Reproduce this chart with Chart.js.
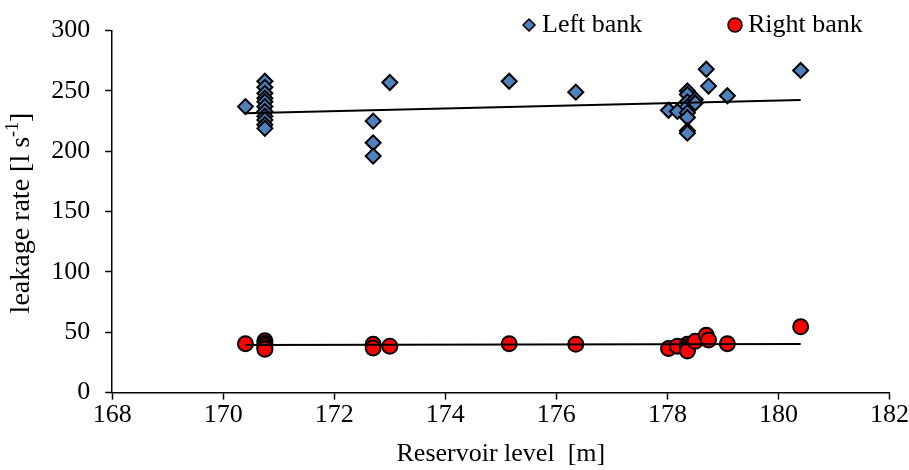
<!DOCTYPE html>
<html>
<head>
<meta charset="utf-8">
<script src="https://cdn.jsdelivr.net/npm/chart.js@4/dist/chart.umd.min.js"></script>
<style>
    html, body { margin: 0; padding: 0; background: #fff; }
    #wrap { width: 909px; height: 470px; }
</style>
</head>
<body>
<div id="wrap"><canvas id="leakChart" width="909" height="470"></canvas></div>
<script>
// reservoir level [m] and leakage [l/s]
const leftLevel = [170.4, 170.75, 170.75, 170.75, 170.75, 170.75, 170.75, 170.75, 170.75, 170.75, 170.75, 170.75,
    172.7, 172.7, 172.7, 173.0, 175.15, 176.35, 178.02, 178.18,
    178.36, 178.36, 178.36, 178.36, 178.36, 178.36, 178.36, 178.36, 178.5, 178.5, 178.7, 178.74, 179.08, 180.4];
const leftRate = [237, 258, 253, 248, 244, 241, 237, 233, 229, 226, 222, 219,
    225, 207, 196, 257, 258, 249, 234, 233,
    250, 247, 241, 237, 232, 228, 217, 215, 243, 240, 268, 254, 246, 267];

const rightLevel = [170.4, 170.75, 170.75, 170.75, 170.75, 170.75, 172.7, 172.7, 173.0, 175.15, 176.35,
    178.02, 178.18, 178.36, 178.36, 178.36, 178.36, 178.5, 178.7, 178.74, 179.08, 180.4];
const rightRate = [40.5, 43, 41, 39, 37, 36, 40, 37, 38.5, 40.5, 40,
    36.5, 38.5, 40, 38, 36, 34.5, 42.5, 47.5, 43.5, 40.5, 54.5];

// trend lines (end points)
const trendLevel = [170.4, 180.4];
const leftTrend = [231.5, 242.5];
const rightTrend = [39.5, 40.3];

const xTicks = { min: 168, max: 182, step: 2 };
const yTicks = { min: 0, max: 300, step: 50 };

const serif = "'Liberation Serif', 'Times New Roman', serif";
const fontSize = 26;

const toPoints = (xs, ys) => xs.map((x, i) => ({ x, y: ys[i] }));

// y title with a raised "-1"
const yTitlePlugin = {
    id: "yTitle",
    afterDraw(chart) {
        const ctx = chart.ctx;
        const main = "leakage rate [l s";
        const sup = "-1";
        const tail = "]";

        ctx.save();
        ctx.fillStyle = "#000";
        ctx.textBaseline = "middle";

        ctx.font = "28px " + serif;
        const w1 = ctx.measureText(main).width;
        const w3 = ctx.measureText(tail).width;
        ctx.font = "18px " + serif;
        const w2 = ctx.measureText(sup).width;
        const total = w1 + w2 + w3;

        ctx.translate(22, 213);
        ctx.rotate(-Math.PI / 2);

        let x = -total / 2;
        ctx.font = "28px " + serif;
        ctx.fillText(main, x, 0);
        x += w1;
        ctx.font = "18px " + serif;
        ctx.fillText(sup, x, -9);
        x += w2;
        ctx.font = "28px " + serif;
        ctx.fillText(tail, x, 0);
        ctx.restore();
    }
};

// legend drawn over the top of the plot, as in the original
const legendPlugin = {
    id: "overLegend",
    afterDraw(chart) {
        const ctx = chart.ctx;
        const items = [
            { ds: chart.data.datasets[0], x: 529, r: 6 },
            { ds: chart.data.datasets[1], x: 735, r: 7 }
        ];
        ctx.save();
        ctx.font = fontSize + "px " + serif;
        ctx.textBaseline = "middle";
        items.forEach(item => {
            ctx.fillStyle = item.ds.backgroundColor;
            ctx.strokeStyle = "#000";
            ctx.lineWidth = 1.5;
            Chart.helpers.drawPoint(ctx, {
                pointStyle: item.ds.pointStyle,
                radius: item.r,
                borderWidth: 1.5,
                rotation: 0
            }, item.x, 25);
            ctx.fillStyle = "#000";
            ctx.fillText(item.ds.label, item.x + 13, 25);
        });
        ctx.restore();
    }
};

const ctx = document.getElementById("leakChart").getContext("2d");

new Chart(ctx, {
    type: "scatter",
    data: {
        datasets: [
            {
                label: "Left bank",
                data: toPoints(leftLevel, leftRate),
                pointStyle: "rectRot",
                pointRadius: 7.5,
                pointHoverRadius: 7.5,
                backgroundColor: "#4F81BD",
                borderColor: "#000",
                borderWidth: 2,
                order: 2
            },
            {
                label: "Right bank",
                data: toPoints(rightLevel, rightRate),
                pointStyle: "circle",
                pointRadius: 7.5,
                pointHoverRadius: 7.5,
                backgroundColor: "#FF0000",
                borderColor: "#000",
                borderWidth: 2,
                order: 2
            },
            {
                label: "trendL",
                type: "line",
                data: toPoints(trendLevel, leftTrend),
                borderColor: "#000",
                borderWidth: 2,
                pointRadius: 0,
                fill: false,
                order: 1
            },
            {
                label: "trendR",
                type: "line",
                data: toPoints(trendLevel, rightTrend),
                borderColor: "#000",
                borderWidth: 2,
                pointRadius: 0,
                fill: false,
                order: 1
            }
        ]
    },
    options: {
        responsive: false,
        animation: false,
        layout: {
            padding: { left: 0, right: 2, top: 14, bottom: 0 }
        },
        plugins: {
            tooltip: { enabled: false },
            legend: { display: false }
        },
        scales: {
            x: {
                type: "linear",
                min: xTicks.min,
                max: xTicks.max,
                ticks: {
                    stepSize: xTicks.step,
                    color: "#000",
                    padding: 0,
                    font: { family: serif, size: fontSize }
                },
                grid: {
                    display: true,
                    drawOnChartArea: false,
                    drawTicks: true,
                    tickLength: 7,
                    tickColor: "#000",
                    tickWidth: 1.5
                },
                border: { color: "#000", width: 1.5 },
                title: {
                    display: true,
                    text: "Reservoir level  [m]",
                    color: "#000",
                    padding: { top: 8, bottom: 0 },
                    font: { family: serif, size: fontSize }
                }
            },
            y: {
                min: yTicks.min,
                max: yTicks.max,
                ticks: {
                    stepSize: yTicks.step,
                    color: "#000",
                    padding: 15,
                    font: { family: serif, size: fontSize }
                },
                grid: {
                    display: true,
                    drawOnChartArea: false,
                    drawTicks: true,
                    tickLength: 7,
                    tickColor: "#000",
                    tickWidth: 1.5
                },
                border: { color: "#000", width: 1.5 },
                title: {
                    // space kept here, the text is drawn by yTitlePlugin
                    display: true,
                    text: "leakage rate [l s-1]",
                    color: "rgba(0,0,0,0)",
                    padding: { top: 0, bottom: 5 },
                    font: { family: serif, size: fontSize }
                }
            }
        }
    },
    plugins: [yTitlePlugin, legendPlugin]
});
</script>
</body>
</html>
